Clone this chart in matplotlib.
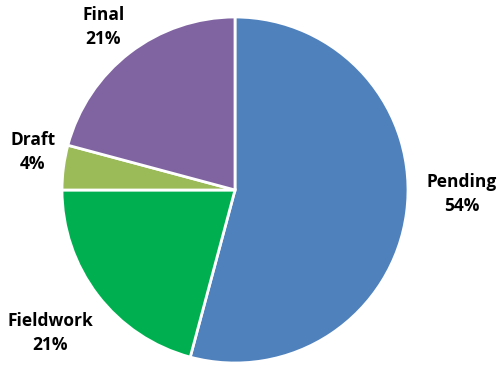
import matplotlib.pyplot as plt
import numpy as np

# Status counts
statuses = ['Pending', 'Fieldwork', 'Draft', 'Final']
counts = [13, 5, 1, 5]
colors = ['#4F81BD', '#00B050', '#9BBB59', '#8064A2']

# label placement (distance from centre in radii, angle tweak in degrees)
label_dist = [1.31, 1.35, 1.19, 1.21]
label_shift = [6.5, 0.3, -3.2, 1.5]

fig = plt.figure(figsize=(5, 3.65), dpi=100)
ax = fig.add_axes([0, 0, 1, 1])

wedges, _ = ax.pie(counts, colors=colors, startangle=90, counterclock=False,
                   radius=1, center=(0, 0),
                   wedgeprops=dict(edgecolor='white', linewidth=2))

total = sum(counts)
for w, name, c, d, s in zip(wedges, statuses, counts, label_dist, label_shift):
    ang = np.deg2rad((w.theta1 + w.theta2) / 2 + s)
    pct = round(100 * c / total)
    ax.text(d * np.cos(ang), d * np.sin(ang), '{}\n{}%'.format(name, pct),
            ha='center', va='center', fontsize=12.5, fontweight='bold',
            family='Open Sans', linespacing=1.45, color='black')

r = 173
ax.set_xlim(-235 / r, 265 / r)
ax.set_ylim(-175 / r, 190 / r)
ax.set_aspect('equal')
ax.axis('off')

fig.savefig('out.png', dpi=100)
